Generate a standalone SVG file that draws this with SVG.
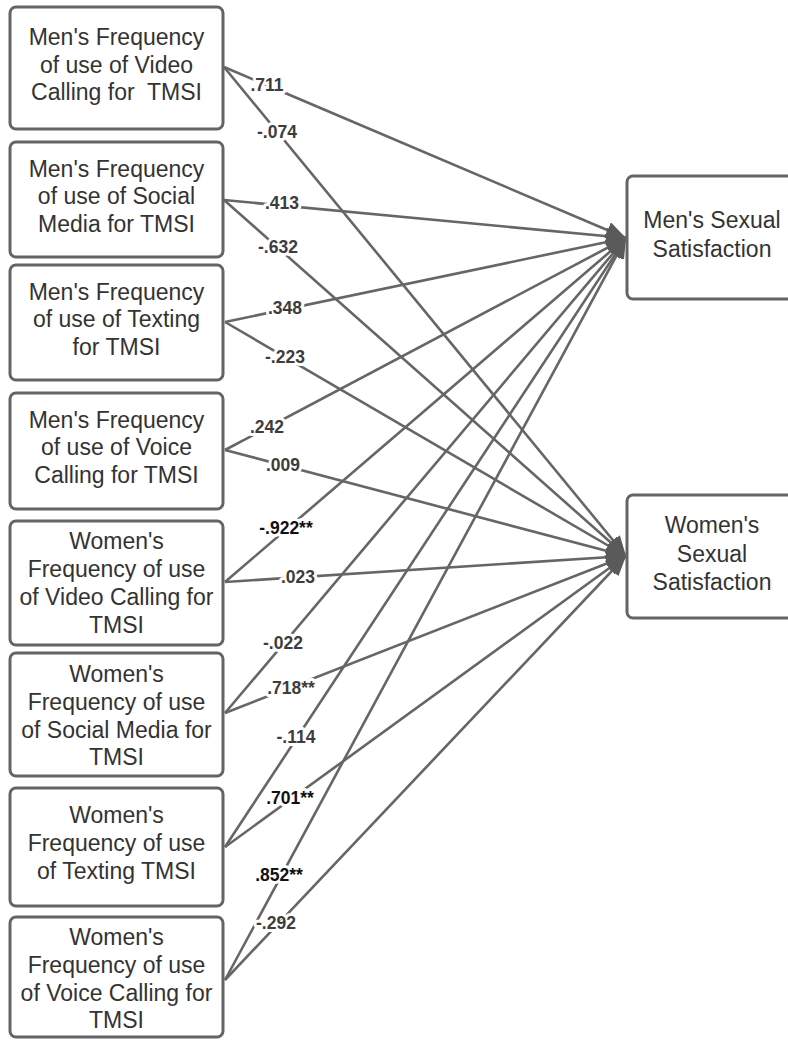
<svg xmlns="http://www.w3.org/2000/svg" width="788" height="1040" viewBox="0 0 788 1040">
<style>
.box{fill:#fff;stroke:#646464;stroke-width:3}
.nt{font-family:"Liberation Sans",Arial,sans-serif;font-size:23px;fill:#333;text-anchor:middle}
.ln{stroke:#666;stroke-width:2.6;fill:none;marker-end:url(#ah)}
.lb{font-family:"Liberation Sans",Arial,sans-serif;font-size:17.5px;font-weight:bold;fill:#3d3d3d;text-anchor:middle;stroke:#fff;stroke-width:6;paint-order:stroke;stroke-linejoin:round}
.sig{fill:#111}
</style>
<defs>
<marker id="ah" markerUnits="userSpaceOnUse" markerWidth="22" markerHeight="18" refX="20" refY="8.5" orient="auto">
<path d="M0,0 L20,8.5 L0,17 z" fill="#5a5a5a"/>
</marker>
</defs>
<rect width="788" height="1040" fill="#fff"/>
<g id="connectors">
<line class="ln" x1="224" y1="67" x2="626" y2="238"/>
<line class="ln" x1="224" y1="67" x2="626" y2="556"/>
<line class="ln" x1="224" y1="200" x2="626" y2="238"/>
<line class="ln" x1="224" y1="200" x2="626" y2="556"/>
<line class="ln" x1="225" y1="322" x2="626" y2="238"/>
<line class="ln" x1="225" y1="322" x2="626" y2="556"/>
<line class="ln" x1="225" y1="450" x2="626" y2="238"/>
<line class="ln" x1="225" y1="450" x2="626" y2="556"/>
<line class="ln" x1="225" y1="582" x2="626" y2="238"/>
<line class="ln" x1="225" y1="582" x2="626" y2="556"/>
<line class="ln" x1="225" y1="713" x2="626" y2="238"/>
<line class="ln" x1="225" y1="713" x2="626" y2="556"/>
<line class="ln" x1="225" y1="847" x2="626" y2="238"/>
<line class="ln" x1="225" y1="847" x2="626" y2="556"/>
<line class="ln" x1="225" y1="980" x2="626" y2="238"/>
<line class="ln" x1="225" y1="980" x2="626" y2="556"/>
</g>
<g id="labels">
<text class="lb" x="267" y="91">.711</text>
<text class="lb" x="277" y="138">-.074</text>
<text class="lb" x="282" y="209">.413</text>
<text class="lb" x="278" y="253">-.632</text>
<text class="lb" x="285" y="314">.348</text>
<text class="lb" x="285" y="363">-.223</text>
<text class="lb" x="267" y="433">.242</text>
<text class="lb" x="283" y="471">.009</text>
<text class="lb sig" x="286" y="534">-.922**</text>
<text class="lb" x="298" y="583">.023</text>
<text class="lb" x="283" y="649">-.022</text>
<text class="lb" x="291" y="694">.718**</text>
<text class="lb" x="296" y="743">-.114</text>
<text class="lb sig" x="290" y="804">.701**</text>
<text class="lb sig" x="279" y="881">.852**</text>
<text class="lb" x="276" y="929">-.292</text>
</g>
<g id="n1">
<rect class="box" x="10" y="7" width="213" height="122" rx="6"/>
<text class="nt" x="116.5" y="45">Men's Frequency</text>
<text class="nt" x="116.5" y="73">of use of Video</text>
<text class="nt" x="116.5" y="100" xml:space="preserve">Calling for  TMSI</text>
</g>
<g id="n2">
<rect class="box" x="10" y="142" width="213" height="115" rx="6"/>
<text class="nt" x="116.5" y="177">Men's Frequency</text>
<text class="nt" x="116.5" y="204">of use of Social</text>
<text class="nt" x="116.5" y="232">Media for TMSI</text>
</g>
<g id="n3">
<rect class="box" x="10" y="265" width="213" height="115" rx="6"/>
<text class="nt" x="116.5" y="300">Men's Frequency</text>
<text class="nt" x="116.5" y="327">of use of Texting</text>
<text class="nt" x="116.5" y="355">for TMSI</text>
</g>
<g id="n4">
<rect class="box" x="10" y="393" width="213" height="116" rx="6"/>
<text class="nt" x="116.5" y="428">Men's Frequency</text>
<text class="nt" x="116.5" y="455">of use of Voice</text>
<text class="nt" x="116.5" y="483">Calling for TMSI</text>
</g>
<g id="n5">
<rect class="box" x="10" y="521" width="213" height="124" rx="6"/>
<text class="nt" x="116.5" y="549">Women's</text>
<text class="nt" x="116.5" y="577">Frequency of use</text>
<text class="nt" x="116.5" y="605">of Video Calling for</text>
<text class="nt" x="116.5" y="633">TMSI</text>
</g>
<g id="n6">
<rect class="box" x="10" y="653" width="213" height="123" rx="6"/>
<text class="nt" x="116.5" y="682">Women's</text>
<text class="nt" x="116.5" y="710">Frequency of use</text>
<text class="nt" x="116.5" y="738">of Social Media for</text>
<text class="nt" x="116.5" y="765">TMSI</text>
</g>
<g id="n7">
<rect class="box" x="10" y="788" width="213" height="118" rx="6"/>
<text class="nt" x="116.5" y="823">Women's</text>
<text class="nt" x="116.5" y="851">Frequency of use</text>
<text class="nt" x="116.5" y="879">of Texting TMSI</text>
</g>
<g id="n8">
<rect class="box" x="10" y="917" width="213" height="120" rx="6"/>
<text class="nt" x="116.5" y="945">Women's</text>
<text class="nt" x="116.5" y="973">Frequency of use</text>
<text class="nt" x="116.5" y="1001">of Voice Calling for</text>
<text class="nt" x="116.5" y="1028">TMSI</text>
</g>
<g id="m_sat">
<rect class="box" x="627" y="176" width="175" height="123" rx="6"/>
<text class="nt" x="712" y="228">Men's Sexual</text>
<text class="nt" x="712" y="257">Satisfaction</text>
</g>
<g id="w_sat">
<rect class="box" x="627" y="495" width="175" height="123" rx="6"/>
<text class="nt" x="712" y="533">Women's</text>
<text class="nt" x="712" y="562">Sexual</text>
<text class="nt" x="712" y="590">Satisfaction</text>
</g>
</svg>
